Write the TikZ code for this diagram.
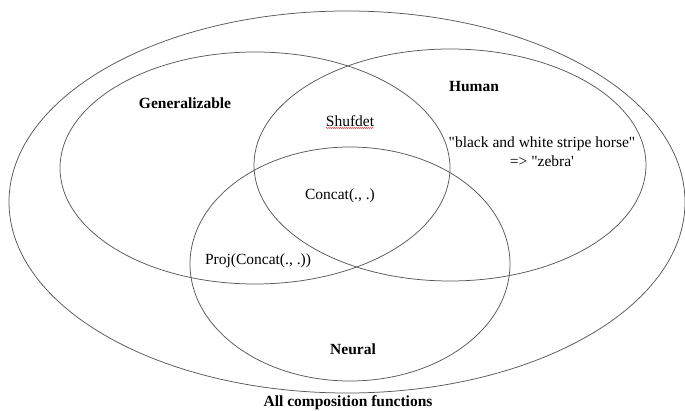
\documentclass[tikz,border=0pt]{standalone}
\usepackage{fontspec}
\setmainfont{Liberation Serif}[Ligatures=TeXOff]
\usetikzlibrary{decorations.pathmorphing}
\begin{document}
\begin{tikzpicture}[x=1pt,y=-1pt,
  setline/.style={draw=black!65, line width=0.75pt},
  lbl/.style={font=\fontsize{15.5}{19}\selectfont, inner sep=0pt, align=center},
  blbl/.style={lbl, font=\fontsize{15.5}{19}\selectfont\bfseries}]
\useasboundingbox (0,0) rectangle (685,411);
\fill[white] (0,0) rectangle (685,411);
% sets
\draw[setline] (347,202) ellipse [x radius=338, y radius=191];
\draw[setline] (255,168) ellipse [x radius=195, y radius=116];
\draw[setline] (450,165) ellipse [x radius=196, y radius=116];
\draw[setline] (350,264) ellipse [x radius=160, y radius=117];
% labels
\node[blbl] (gen) at (185,103) {Generalizable};
\node[blbl] (hum) at (474,87) {Human};
\node[blbl] (neu) at (353,349) {Neural};
\node[blbl] (all) at (348,403) {All composition functions};
\node[lbl] (shuf) at (350,121) {Shufdet};
\node[lbl] (zeb) at (542,152) {"black and white stripe horse"\\=> "zebra'};
\node[lbl] (cat) at (340,196) {Concat(., .)};
\node[lbl] (proj) at (258,261) {Proj(Concat(., .))};
\coordinate (u1) at (326,128);
\coordinate (u2) at (374,128);
\draw[red!80, line width=0.4pt, decorate, decoration={snake, amplitude=0.6pt, segment length=2pt}] (u1) -- (u2);
\end{tikzpicture}
\end{document}
